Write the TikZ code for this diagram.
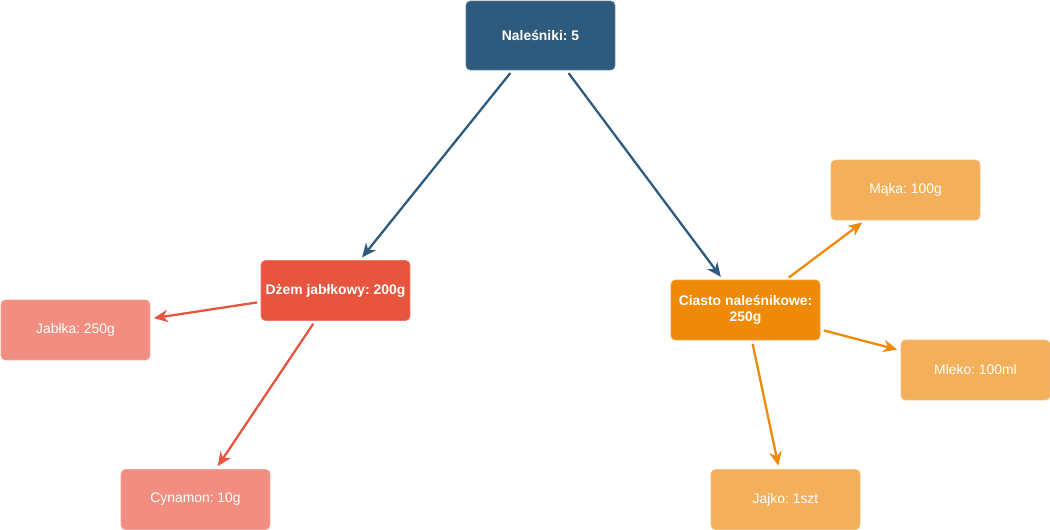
\documentclass[tikz,border=0pt]{standalone}
\usepackage{fontspec}
\setmainfont{Liberation Sans}
\usepackage{xcolor}
\usetikzlibrary{arrows.meta}
\frenchspacing

\definecolor{topblue}{HTML}{2E5B7D}
\definecolor{jamred}{HTML}{E8553F}
\definecolor{jamlight}{HTML}{F18E81}
\definecolor{doughorange}{HTML}{EF8A08}
\definecolor{doughlight}{HTML}{F4AF5A}

\begin{document}
\begin{tikzpicture}[x=0.02cm,y=-0.02cm]
\tikzset{box/.style={rectangle,rounded corners=2.5pt,minimum width=2.98cm,minimum height=1.2cm,inner xsep=1.5pt,text=white,align=center,font=\fontsize{7.9}{9}\selectfont,line width=0.4pt}}
\tikzset{mainbox/.style={box,font=\fontsize{7.9}{9.5}\selectfont\bfseries}}
\tikzset{link/.style={line width=1.3pt,-{Stealth[length=8pt,width=7pt,inset=2.5pt]},shorten <=2pt,shorten >=2pt}}

\useasboundingbox (0,0) rectangle (1050,530);

\node[mainbox,fill=topblue,draw=topblue!80!white,minimum height=1.38cm] (pancakes) at (540.5,35.5) {Naleśniki: 5};

\node[mainbox,fill=jamred,draw=jamred!80!white] (jam) at (335.5,290.5) {Dżem jabłkowy: 200g};
\node[box,fill=jamlight,draw=jamlight!80!white] (apples) at (75.5,330) {Jabłka: 250g};
\node[box,fill=jamlight,draw=jamlight!80!white] (cinnamon) at (195.5,499.5) {Cynamon: 10g};

\node[mainbox,fill=doughorange,draw=doughorange!80!white] (dough) at (745.5,310) {Ciasto naleśnikowe:\\250g};
\node[box,fill=doughlight,draw=doughlight!80!white] (flour) at (905.5,190) {Mąka: 100g};
\node[box,fill=doughlight,draw=doughlight!80!white] (milk) at (975.5,370) {Mleko: 100ml};
\node[box,fill=doughlight,draw=doughlight!80!white] (egg) at (785.5,499.5) {Jajko: 1szt};

\draw[link,topblue] (pancakes) -- (jam);
\draw[link,topblue] (pancakes) -- (dough);

\draw[link,jamred] (jam) -- (apples);
\draw[link,jamred] (jam) -- (cinnamon);

\draw[link,doughorange] (dough) -- (flour);
\draw[link,doughorange] (dough) -- (milk);
\draw[link,doughorange] (dough) -- (egg);

\end{tikzpicture}
\end{document}
